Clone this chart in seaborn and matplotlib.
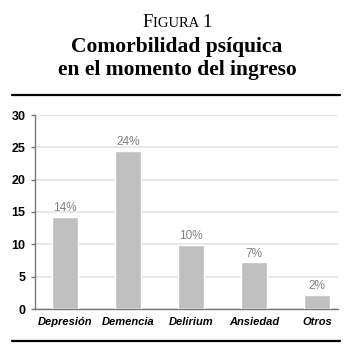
import matplotlib
matplotlib.use("Agg")
import matplotlib.pyplot as plt
import seaborn as sns
import pandas as pd

categorias = ["Depresión", "Demencia", "Delirium", "Ansiedad", "Otros"]
valores = [14.2, 24.4, 9.9, 7.2, 2.2]
etiquetas = ["14%", "24%", "10%", "7%", "2%"]
yticks = [0, 5, 10, 15, 20, 25, 30]

df = pd.DataFrame({"cat": categorias, "val": valores})

sns.set_style("white")
plt.rcParams["font.family"] = ["Liberation Sans", "DejaVu Sans"]
plt.rcParams["text.color"] = "black"
plt.rcParams["xtick.color"] = "black"
plt.rcParams["ytick.color"] = "black"

fig = plt.figure(figsize=(3.54, 3.56), dpi=100)
ax = fig.add_axes([35 / 354, 1 - 309 / 356, (338 - 35) / 354, (309 - 115) / 356])

sns.barplot(data=df, x="cat", y="val", color="#c0c0c0", width=0.41,
            saturation=1, ax=ax, zorder=3)
ax.bar_label(ax.containers[0], labels=etiquetas, padding=2, color="#808080",
             fontsize=8.5)

ax.set_ylim(0, 30)
ax.set_xlim(-0.476, 4.33)
ax.set_yticks(yticks)
ax.set_yticklabels([str(t) for t in yticks], fontsize=9, fontweight="bold")
ax.set_xticks(range(len(categorias)))
ax.set_xticklabels(categorias, fontsize=8, fontweight="bold", style="italic")
ax.set_xlabel("")
ax.set_ylabel("")
ax.yaxis.grid(True, color="#e6e6e6", linewidth=1.3, zorder=0)
ax.set_axisbelow(True)
for s in ["top", "right"]:
    ax.spines[s].set_visible(False)
ax.spines["left"].set_color("#777777")
ax.spines["bottom"].set_color("#777777")
ax.spines["left"].set_linewidth(1)
ax.spines["bottom"].set_linewidth(1)
ax.tick_params(axis="y", length=3, width=1, color="#777777", labelcolor="black",
               pad=4, left=True)
ax.tick_params(axis="x", length=0, pad=6, labelcolor="black")

# titulo, "FIGURA 1" en versalitas
fig.canvas.draw()
r = fig.canvas.get_renderer()
partes = [("F", 13.5), ("IGURA ", 10.5), ("1", 13.5)]
textos = []
for txt, fs in partes:
    textos.append(fig.text(0, 1 - 27 / 356, txt, ha="left", va="baseline",
                           family="Liberation Serif", fontsize=fs))
anchos = [t.get_window_extent(r).width for t in textos]
x = (354 - sum(anchos)) / 2
for t, w in zip(textos, anchos):
    t.set_x(x / 354)
    x += w

fig.text(0.5, 1 - 47 / 356, "Comorbilidad psíquica", ha="center", va="center",
         family="Liberation Serif", fontweight="bold", fontsize=15.5)
fig.text(0.5, 1 - 70 / 356, "en el momento del ingreso", ha="center", va="center",
         family="Liberation Serif", fontweight="bold", fontsize=15.5)

for y in [95, 341]:
    fig.add_artist(plt.Line2D([12 / 354, 340 / 354], [1 - y / 356, 1 - y / 356],
                              color="black", linewidth=1.6))

fig.savefig("out.png", dpi=100)
